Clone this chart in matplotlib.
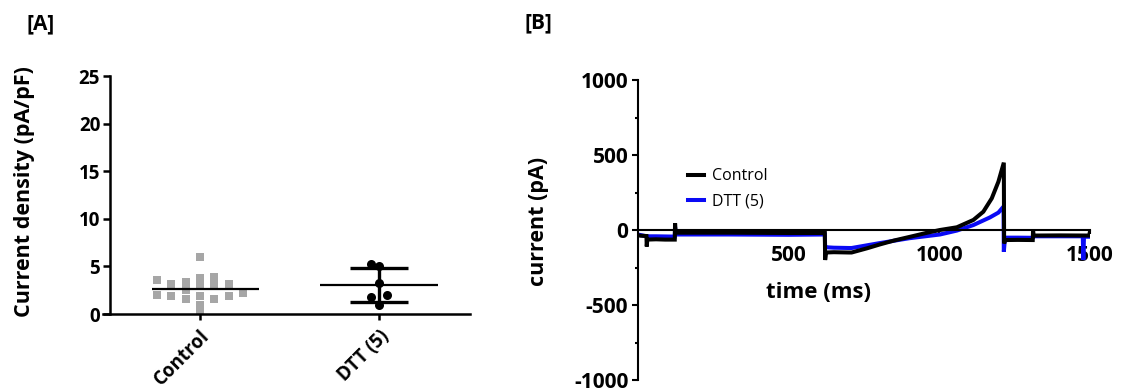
import numpy as np
import matplotlib
matplotlib.use("Agg")
import matplotlib.pyplot as plt
from matplotlib.ticker import MultipleLocator

plt.rcParams['font.family'] = ['Open Sans', 'DejaVu Sans']
plt.rcParams['axes.unicode_minus'] = False

# ---------------- data ----------------
groups = ["Control", "DTT (5)"]
control_density = [6.0, 3.9, 3.0, 2.0, 3.2, 2.2, 2.5, 1.6, 3.8, 2.9,
                   1.9, 0.9, 0.1, 3.6, 1.9, 3.2, 1.9, 3.4, 1.6]
dtt_density = [5.0, 5.24, 3.25, 2.0, 1.78, 0.9]

# current traces: time (ms) and current (pA)
control_t = [0, 8, 28, 29, 31, 60, 90, 122, 123, 125, 300, 500, 620, 621, 624,
             650, 700, 709, 760, 803, 850, 914, 960, 1002, 1058, 1113, 1146,
             1174, 1196, 1214, 1215, 1218, 1260, 1310, 1311, 1313, 1400, 1497,
             1500]
control_i = [-35, -38, -40, -110, -64, -62, -64, -64, 45, -18, -18, -20, -20,
             -200, -150, -148, -150, -150, -122, -96, -70, -40, -18, 0, 18, 67,
             122, 211, 322, 449, -90, -67, -66, -67, 0, -37, -36, -37, -10]
dtt_t = [0, 28, 60, 122, 123, 125, 300, 500, 620, 621, 624, 650, 700, 709,
         800, 900, 1002, 1058, 1113, 1168, 1196, 1213, 1214, 1218, 1260, 1310,
         1313, 1400, 1476, 1478, 1480, 1500]
dtt_i = [-30, -42, -42, -44, 20, -30, -30, -32, -30, -110, -115, -118, -120,
         -120, -88, -55, -30, -4, 33, 84, 116, 156, -145, -51, -51, -52, -42,
         -42, -42, -200, -45, -45]


def swarm_offsets(values, step, min_gap):
    """Greedy beeswarm: put each point in the closest free column."""
    values = np.asarray(values, dtype=float)
    cols = np.zeros(len(values))
    placed = []
    candidates = [0]
    for k in range(1, 10):
        candidates += [-k, k]
    for idx in np.argsort(values):
        v = values[idx]
        for k in candidates:
            if all(not (c == k and abs(v - pv) < min_gap) for pv, c in placed):
                break
        placed.append((v, k))
        cols[idx] = k
    return cols * step


W, H = 1121, 392
fig = plt.figure(figsize=(W / 100, H / 100), dpi=100)

# ---------------- panel A ----------------
axA = fig.add_axes([103 / W, 1 - 314 / H, (470 - 103) / W, (314 - 76) / H])
xc = np.zeros(len(control_density)) + swarm_offsets(control_density, 0.08, 0.75)
xd = np.ones(len(dtt_density)) + swarm_offsets(dtt_density, 0.045, 1.2)
axA.plot(xc, control_density, 's', color='#A6A6A6', ms=6, mew=0, zorder=2)
axA.plot(xd, dtt_density, 'o', color='black', ms=6.5, mew=0, zorder=2)

c_mean = np.mean(control_density)
d_mean = np.mean(dtt_density)
d_sd = np.std(dtt_density, ddof=1)
axA.hlines(c_mean, -0.27, 0.33, color='black', lw=1.6, zorder=3)
axA.hlines(d_mean, 1 - 0.33, 1 + 0.33, color='black', lw=1.6, zorder=3)
axA.hlines([d_mean - d_sd, d_mean + d_sd], 1 - 0.16, 1 + 0.16, color='black',
           lw=2.4, zorder=3)
axA.vlines(1, d_mean - d_sd, d_mean + d_sd, color='black', lw=2.4, zorder=3)

axA.set_xlim(-0.542, 1.508)
axA.set_ylim(0, 25)
axA.spines['left'].set_position(('data', -0.503))
for s in ('top', 'right'):
    axA.spines[s].set_visible(False)
for s in ('left', 'bottom'):
    axA.spines[s].set_linewidth(1.8)
axA.set_yticks([0, 5, 10, 15, 20, 25])
axA.set_xticks([0, 1])
axA.set_xticklabels(groups, rotation=45, ha='right', rotation_mode='anchor',
                    fontsize=13.5, fontweight='bold')
axA.tick_params(axis='y', length=5, width=1.8, pad=2, labelsize=13.5)
axA.tick_params(axis='x', length=4.5, width=1.8, pad=4)
for lab in axA.get_yticklabels():
    lab.set_fontweight('bold')
axA.set_ylabel("Current density (pA/pF)", fontsize=15.5, fontweight='bold')
axA.yaxis.set_label_coords(-0.185, 0.513)
fig.text(27 / W, 1 - 24 / H, "[A]", fontsize=15, fontweight='bold',
         ha='left', va='center')

# ---------------- panel B ----------------
axB = fig.add_axes([638 / W, 1 - 380 / H, (1090 - 638) / W, 300 / H])
axB.plot(dtt_t, dtt_i, color='#0A0AF5', lw=2.9, solid_joinstyle='miter',
         label='DTT (5)', zorder=2)
axB.plot(control_t, control_i, color='black', lw=2.9, solid_joinstyle='miter',
         label='Control', zorder=3)
axB.set_xlim(0, 1500)
axB.set_ylim(-1000, 1000)
axB.spines['bottom'].set_position(('data', 0))
for s in ('top', 'right'):
    axB.spines[s].set_visible(False)
for s in ('left', 'bottom'):
    axB.spines[s].set_linewidth(1.5)
axB.set_xticks([500, 1000, 1500])
axB.set_yticks([-1000, -500, 0, 500, 1000])
axB.yaxis.set_minor_locator(MultipleLocator(250))
axB.tick_params(axis='x', length=3, width=1.5, pad=8, labelsize=15)
axB.tick_params(axis='y', which='major', length=4, width=1.5, pad=3,
                labelsize=15)
axB.tick_params(axis='y', which='minor', length=2.5, width=1.5)
for lab in axB.get_xticklabels() + axB.get_yticklabels():
    lab.set_fontweight('bold')
fig.text(819 / W, 1 - 292 / H, "time (ms)", fontsize=16, fontweight='bold',
         ha='center', va='center')
axB.set_ylabel("current (pA)", fontsize=15.5, fontweight='bold')
axB.yaxis.set_label_coords(-0.197, 0.53)

handles, labels = axB.get_legend_handles_labels()
axB.legend(handles[::-1], labels[::-1], loc='upper left',
           bbox_to_anchor=(0.11, 0.705), frameon=False, fontsize=11.5,
           handlelength=1.05, handletextpad=0.5, labelspacing=0.55,
           borderpad=0, borderaxespad=0)

fig.text(525 / W, 1 - 23 / H, "[B]", fontsize=15, fontweight='bold',
         ha='left', va='center')

fig.savefig("out.png", dpi=100)
